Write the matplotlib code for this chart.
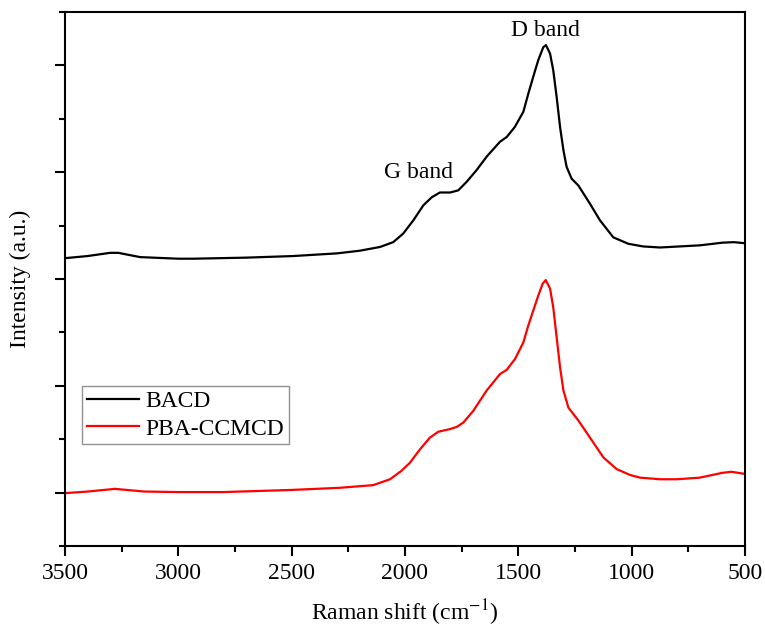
import matplotlib.pyplot as plt
from matplotlib.ticker import MultipleLocator, FixedLocator, NullFormatter

plt.rcParams['font.family'] = ['Liberation Serif', 'DejaVu Serif']
plt.rcParams['mathtext.fontset'] = 'stix'

# Raman spectra (offset intensities, arbitrary units)
shift_bacd = [3500, 3400, 3301, 3265, 3169, 3000, 2934, 2700, 2493, 2300, 2199, 2110,
              2052, 2008, 1963, 1919, 1882, 1846, 1801, 1765, 1728, 1684, 1640, 1581,
              1551, 1515, 1478, 1456, 1434, 1412, 1390, 1378, 1360, 1346, 1331, 1316,
              1301, 1287, 1265, 1235, 1184, 1140, 1081, 1015, 950, 875, 700, 600, 550, 500]
int_bacd = [5.39, 5.43, 5.49, 5.49, 5.41, 5.38, 5.38, 5.40, 5.43, 5.48, 5.53, 5.60,
            5.69, 5.85, 6.10, 6.38, 6.53, 6.62, 6.62, 6.66, 6.82, 7.04, 7.29, 7.57,
            7.66, 7.85, 8.13, 8.47, 8.79, 9.10, 9.34, 9.38, 9.22, 8.91, 8.41, 7.85,
            7.41, 7.10, 6.88, 6.75, 6.41, 6.10, 5.78, 5.66, 5.61, 5.59, 5.63, 5.68, 5.69, 5.67]

shift_pba = [3500, 3400, 3280, 3150, 3000, 2800, 2500, 2287, 2140, 2066, 2015, 1978,
             1934, 1890, 1853, 1801, 1772, 1743, 1699, 1640, 1581, 1551, 1515, 1478,
             1456, 1434, 1412, 1393, 1379, 1360, 1346, 1331, 1316, 1301, 1279, 1235,
             1184, 1125, 1066, 1007, 963, 875, 800, 700, 600, 560, 500]
int_pba = [0.99, 1.02, 1.07, 1.02, 1.01, 1.01, 1.05, 1.09, 1.14, 1.25, 1.41, 1.56,
           1.81, 2.03, 2.14, 2.19, 2.23, 2.31, 2.53, 2.91, 3.22, 3.30, 3.50, 3.81,
           4.13, 4.41, 4.69, 4.91, 4.98, 4.82, 4.47, 3.91, 3.35, 2.91, 2.59, 2.35,
           2.03, 1.66, 1.44, 1.33, 1.28, 1.25, 1.25, 1.28, 1.37, 1.39, 1.35]

fig = plt.figure(figsize=(7.65, 6.27), dpi=100)
ax = fig.add_axes([65 / 765, 1 - 546 / 627, 680 / 765, 534 / 627])

ax.plot(shift_bacd, int_bacd, color='black', lw=1.6, label='BACD')
ax.plot(shift_pba, int_pba, color='red', lw=1.6, label='PBA-CCMCD')

ax.set_xlim(3500, 500)
ax.set_ylim(0, 10)
ax.xaxis.set_major_locator(MultipleLocator(500))
ax.xaxis.set_minor_locator(MultipleLocator(250))
ax.yaxis.set_major_locator(FixedLocator([1, 3, 5, 7, 9]))
ax.yaxis.set_minor_locator(FixedLocator([0, 2, 4, 6, 8, 10]))
ax.yaxis.set_major_formatter(NullFormatter())

for s in ax.spines.values():
    s.set_linewidth(1.5)
ax.tick_params(which='major', direction='out', length=7, width=1.5, labelsize=17)
ax.tick_params(which='minor', direction='out', length=4, width=1.5)
ax.tick_params(axis='x', pad=5)

ax.set_xlabel(r'Raman shift (cm$^{-1}$)', fontsize=17, labelpad=10)
ax.set_ylabel('Intensity (a.u.)', fontsize=17, labelpad=14)

ax.text(1380, 9.45, 'D band', fontsize=17, ha='center', va='bottom')
ax.text(1940, 6.79, 'G band', fontsize=17, ha='center', va='bottom')

leg = ax.legend(loc='upper left', bbox_to_anchor=(0.025, 0.3), fontsize=17,
                frameon=True, fancybox=False, handlelength=2.2, handletextpad=0.3,
                borderpad=0.2, labelspacing=0.26, borderaxespad=0)
leg.get_frame().set_edgecolor('#777777')
leg.get_frame().set_linewidth(1.0)

fig.savefig('out.png', dpi=100)
